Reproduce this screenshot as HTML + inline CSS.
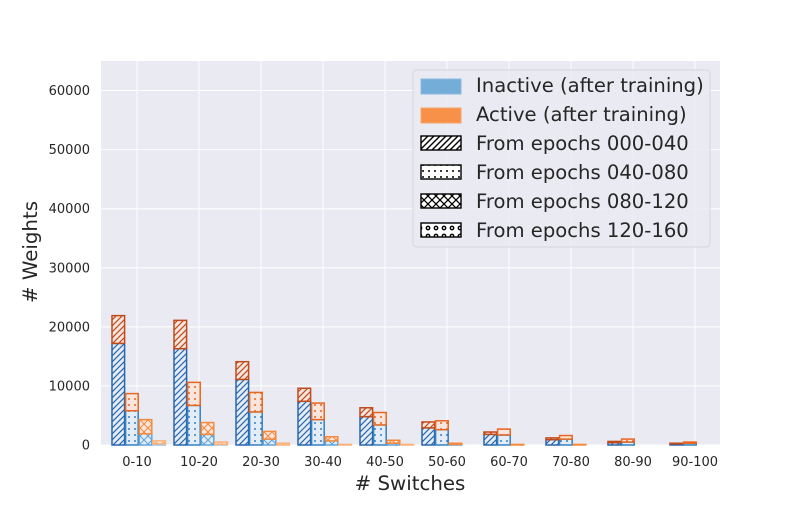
<!DOCTYPE html>
<html><head><meta charset="utf-8"><style>
body{margin:0;background:#fff;font-family:"Liberation Sans","DejaVu Sans",sans-serif}
svg text{font-family:"DejaVu Sans","Liberation Sans",sans-serif}
</style></head><body>
<svg id="chart" width="800" height="500" xmlns="http://www.w3.org/2000/svg">
<defs id="defs"></defs>
<rect x="101" y="61" width="619" height="384" fill="#eaeaf2"/>
<g id="grid"></g><g id="bars"></g><g id="axes"></g>
<g>
<rect x="413" y="70" width="297" height="177" rx="4" fill="#eaeaf2" fill-opacity="0.85" stroke="#d5d5dd"/>
<rect x="421" y="79" width="40" height="15" fill="#74add8" stroke="#8cbbe0"/>
<text x="476" y="92" font-size="19.6" fill="#262626">Inactive (after training)</text>
<rect x="421" y="108" width="40" height="15" fill="#f7914a" stroke="#f8a468"/>
<text x="476" y="121" font-size="19.6" fill="#262626">Active (after training)</text>
<rect x="421" y="136" width="40" height="14" fill="url(#lg0)" stroke="#000" stroke-width="1.4"/>
<text x="476" y="150" font-size="19.6" fill="#262626">From epochs 000-040</text>
<rect x="421" y="165" width="40" height="14" fill="url(#lg1)" stroke="#000" stroke-width="1.4"/>
<text x="476" y="179" font-size="19.6" fill="#262626">From epochs 040-080</text>
<rect x="421" y="194" width="40" height="14" fill="url(#lg2)" stroke="#000" stroke-width="1.4"/>
<text x="476" y="208" font-size="19.6" fill="#262626">From epochs 080-120</text>
<rect x="421" y="223" width="40" height="14" fill="url(#lg3)" stroke="#000" stroke-width="1.4"/>
<text x="476" y="237" font-size="19.6" fill="#262626">From epochs 120-160</text>
</g>
<text x="410" y="490" font-size="19.8" text-anchor="middle" fill="#262626"># Switches</text>
<text transform="translate(37,252) rotate(-90)" font-size="19.8" text-anchor="middle" fill="#262626"># Weights</text>
</svg>
<script>
const categories=['0-10','10-20','20-30','30-40','40-50','50-60','60-70','70-80','80-90','90-100'];
const inactive0=[17200,16300,11100,7400,4800,2900,1800,900,400,200];
const total0=[21900,21100,14100,9600,6300,3900,2200,1200,600,300];
const inactive1=[5800,6700,5600,4300,3400,2600,1700,1000,500,300];
const total1=[8700,10600,8900,7100,5500,4100,2700,1600,1000,500];
const inactive2=[1900,1800,1000,700,300,100,0,0,0,0];
const total2=[4300,3800,2300,1400,800,300,100,100,0,0];
const inactive3=[200,100,0,0,0,0,0,0,0,0];
const total3=[700,500,300,100,100,0,0,0,0,0];
const yTicks=[0,10000,20000,30000,40000,50000,60000];
const inact=[inactive0,inactive1,inactive2,inactive3], tot=[total0,total1,total2,total3];
const NS='http://www.w3.org/2000/svg';
const y=v=>445-v*384/65000;
const xc=i=>137+62*i;
const blues=['#2a66ad','#3580c2','#62a3d6','#9cc6e6'];
const oranges=['#bf4a1c','#e8661f','#f58a3c','#fbb27a'];
const defs=document.getElementById('defs');
function mk(tag,attrs,parent){const e=document.createElementNS(NS,tag);for(const k in attrs)e.setAttribute(k,attrs[k]);parent.appendChild(e);return e;}
function pattern(id,type,color,bg,lw){
  const s=type===0?6:type===3?8:type===2?8:6;
  const p=mk('pattern',{id:id,width:s,height:s,patternUnits:'userSpaceOnUse'},defs);
  mk('rect',{width:s,height:s,fill:bg},p);
  if(type===0){mk('path',{d:`M0,${s} L${s},0 M-1,1 L1,-1 M${s-1},${s+1} L${s+1},${s-1}`,stroke:color,'stroke-width':lw},p);}
  else if(type===1){mk('circle',{cx:s/2,cy:s/2,r:1,fill:color},p);}
  else if(type===2){mk('path',{d:`M0,0 L${s},${s} M0,${s} L${s},0`,stroke:color,'stroke-width':lw*0.9},p);}
  else {mk('circle',{cx:s/2,cy:s/2,r:1.7,fill:'none',stroke:color,'stroke-width':lw},p);}
}
for(let j=0;j<4;j++){pattern('lg'+j,j,'#000','#fff',1.4);pattern('pb'+j,j,blues[j],'#e4edf7',1.2);pattern('po'+j,j,oranges[j],'#f8e6de',1.2);}
const grid=document.getElementById('grid'),axes=document.getElementById('axes'),bars=document.getElementById('bars');
yTicks.forEach(t=>{
  const l=mk('line',{x1:101,x2:720,y1:y(t),y2:y(t),stroke:'#fff','stroke-width':1},grid);
  
  
  const tx=mk('text',{x:90,y:y(t)+4.5,'font-size':13,'text-anchor':'end',fill:'#262626'},axes);
  tx.textContent=t;
  
  
});
categories.forEach((c,i)=>{
  const l=mk('line',{x1:xc(i),x2:xc(i),y1:61,y2:445,stroke:'#fff','stroke-width':1},grid);
  
  
  const tx=mk('text',{x:xc(i),y:466,'font-size':13,'text-anchor':'middle',fill:'#262626'},axes);
  tx.textContent=c;
  
  
  for(let j=0;j<4;j++){
    const x0=xc(i)-25+13.6*j, w=12.6;
    const a=inact[j][i], t=tot[j][i];
    if(t<=0) continue;
    if(a>0){
      const r=mk('rect',{x:x0,y:y(a),width:w,height:y(0)-y(a),fill:`url(#pb${j})`,stroke:blues[j],'stroke-width':1.5},bars);
      
      
    }
    if(t>a){
      const r=mk('rect',{x:x0,y:y(t),width:w,height:y(a)-y(t),fill:`url(#po${j})`,stroke:oranges[j],'stroke-width':1.5},bars);
      
      
    }
  }
});
</script>
</body></html>
